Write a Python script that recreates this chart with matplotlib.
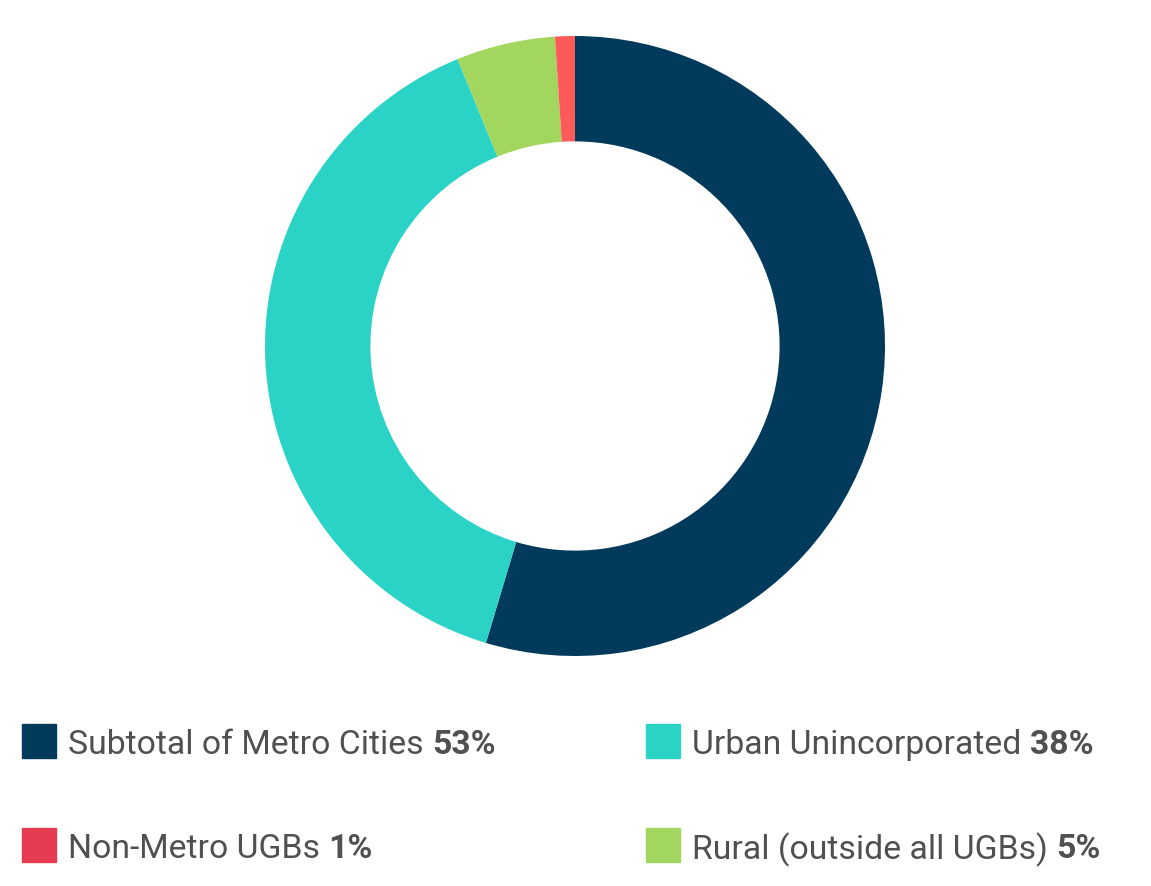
import matplotlib.pyplot as plt
from matplotlib.patches import Rectangle

# slices in drawing order, clockwise from the top
labels = ['Subtotal of Metro Cities', 'Urban Unincorporated', 'Rural (outside all UGBs)', 'Non-Metro UGBs']
values = [53, 38, 5, 1]
pie_colors = ['#023a5c', '#2bd3c6', '#a3d65f', '#ff5a5a']
legend_colors = ['#023a5c', '#2bd3c6', '#a3d65f', '#e63c52']

# legend layout: (slice index, column, row)
legend_order = [(0, 0, 0), (1, 1, 0), (3, 0, 1), (2, 1, 1)]

plt.rcParams['font.family'] = ['Roboto', 'DejaVu Sans']

W, H = 1151, 887
fig = plt.figure(figsize=(W / 100, H / 100), dpi=100)

cx, cy, r = 575, 347, 310
ax = fig.add_axes([(cx - r) / W, (H - cy - r) / H, 2 * r / W, 2 * r / H])
ax.pie(values, colors=pie_colors, startangle=90, counterclock=False,
       radius=1, wedgeprops=dict(width=0.34, edgecolor='none'))
ax.set_xlim(-1, 1)
ax.set_ylim(-1, 1)
ax.set_aspect('equal')
ax.axis('off')

col_x = [22, 646]
row_y = [742, 846]
sq = 34
fs = 24.3
fig.canvas.draw()
renderer = fig.canvas.get_renderer()
for idx, col, row in legend_order:
    x0 = col_x[col]
    yc = row_y[row]
    fig.patches.append(Rectangle((x0 / W, (H - yc - sq / 2) / H), sq / W, sq / H,
                                 transform=fig.transFigure, color=legend_colors[idx]))
    t = fig.text((x0 + sq + 12) / W, (H - yc) / H, labels[idx] + ' ', fontsize=fs,
                 color='#505050', va='center_baseline', ha='left')
    bb = t.get_window_extent(renderer)
    fig.text(bb.x1 / W, (H - yc) / H, '%d%%' % values[idx], fontsize=fs,
             color='#505050', fontweight='bold', va='center_baseline', ha='left')

fig.savefig('out.png', dpi=100)
